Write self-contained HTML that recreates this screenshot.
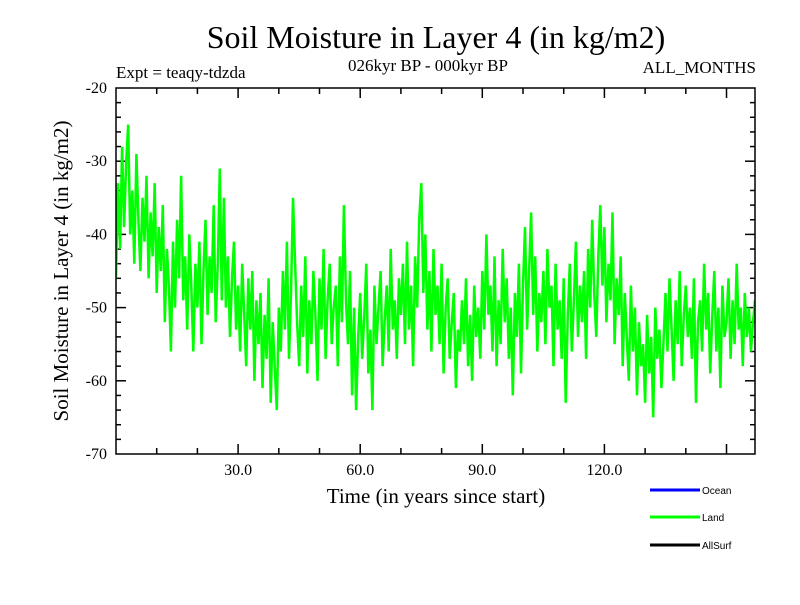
<!DOCTYPE html>
<html><head><meta charset="utf-8"><style>
body{margin:0;background:#fff}
svg text{font-family:"Liberation Serif",serif}
</style></head><body>
<svg id="chart" width="800" height="600" viewBox="0 0 800 600">
<defs><clipPath id="plotclip"><rect x="116" y="88" width="639" height="366"/></clipPath></defs>
<rect width="800" height="600" fill="#fff"/>
<text x="436" y="48" font-size="32" text-anchor="middle">Soil Moisture in Layer 4 (in kg/m2)</text>
<text x="116" y="78" font-size="17">Expt = teaqy-tdzda</text>
<text x="428" y="71" font-size="17" text-anchor="middle">026kyr BP - 000kyr BP</text>
<text x="756" y="73" font-size="17" text-anchor="end">ALL_MONTHS</text>
<text x="436" y="503" font-size="21" text-anchor="middle">Time (in years since start)</text>
<text transform="translate(68,271) rotate(-90)" font-size="21" text-anchor="middle">Soil Moisture in Layer 4 (in kg/m2)</text>
<g id="ticks"></g>
<g id="series" clip-path="url(#plotclip)"></g>
<rect x="116" y="88" width="639" height="366" fill="none" stroke="#000" stroke-width="1.5"/>
<g>
<line x1="650" y1="490" x2="700" y2="490" stroke="#0000ff" stroke-width="3"/>
<text x="702" y="494" font-size="10" style="font-family:'Liberation Sans',sans-serif">Ocean</text>
<line x1="650" y1="517" x2="700" y2="517" stroke="#00ff00" stroke-width="3"/>
<text x="702" y="521" font-size="10" style="font-family:'Liberation Sans',sans-serif">Land</text>
<line x1="650" y1="545" x2="700" y2="545" stroke="#000" stroke-width="3"/>
<text x="702" y="549" font-size="10" style="font-family:'Liberation Sans',sans-serif">AllSurf</text>
</g>
</svg>
<script>
const xTicks=[30,60,90,120];
const xTickLabels=["30.0","60.0","90.0","120.0"];
const yTicks=[-20,-30,-40,-50,-60,-70];
const yTickLabels=["-20","-30","-40","-50","-60","-70"];
const timeStep=0.5;
const landValues=[
-46,-33,-42,-28,-39,-30,-25,-40,-34,-44,
-29,-38,-45,-35,-41,-32,-46,-37,-43,-33,
-48,-39,-45,-36,-52,-42,-47,-56,-41,-50,
-38,-46,-32,-49,-43,-53,-40,-47,-56,-44,
-50,-41,-55,-45,-38,-51,-43,-48,-36,-52,
-44,-31,-49,-35,-50,-43,-54,-46,-41,-53,
-47,-56,-44,-51,-58,-46,-53,-45,-60,-49,
-55,-48,-61,-51,-57,-46,-63,-52,-58,-64,
-50,-56,-45,-53,-41,-57,-48,-35,-44,-52,
-58,-47,-54,-43,-59,-49,-55,-45,-51,-60,
-46,-53,-42,-57,-49,-44,-55,-50,-47,-58,
-43,-52,-36,-49,-55,-45,-62,-50,-64,-54,
-48,-57,-51,-44,-59,-53,-64,-47,-55,-50,
-45,-58,-52,-47,-56,-42,-53,-49,-57,-46,
-51,-44,-55,-41,-53,-47,-58,-43,-50,-38,
-33,-48,-40,-53,-45,-56,-42,-51,-47,-55,
-44,-59,-50,-46,-57,-52,-48,-61,-53,-56,
-49,-55,-46,-58,-51,-60,-47,-54,-50,-57,
-45,-53,-40,-51,-47,-56,-43,-58,-49,-55,
-42,-52,-46,-57,-50,-62,-48,-54,-44,-59,
-47,-39,-53,-45,-37,-51,-43,-56,-48,-52,
-45,-55,-42,-50,-47,-58,-44,-53,-49,-57,
-46,-63,-51,-44,-56,-49,-41,-54,-47,-52,
-45,-57,-42,-50,-38,-48,-54,-43,-36,-47,
-39,-52,-44,-49,-37,-55,-46,-51,-43,-58,
-48,-54,-60,-47,-56,-50,-62,-52,-58,-55,
-63,-51,-59,-54,-65,-50,-57,-53,-61,-55,
-48,-56,-46,-53,-60,-49,-55,-45,-58,-51,
-47,-54,-50,-57,-46,-63,-52,-49,-56,-44,
-53,-48,-59,-51,-45,-56,-50,-61,-47,-54,
-52,-46,-57,-49,-55,-44,-53,-50,-58,-48,
-54,-50,-56,-52,-49,-55,-51,-53,-50,-52];
const NS="http://www.w3.org/2000/svg";
const X0=116,X1=755,Y0=88,Y1=454,xMin=0,xMax=157,yMin=-70,yMax=-20;
function sx(v){return X0+(v-xMin)/(xMax-xMin)*(X1-X0);}
function sy(v){return Y1-(v-yMin)/(yMax-yMin)*(Y1-Y0);}
function mk(tag,attrs,parent){const e=document.createElementNS(NS,tag);for(const k in attrs)e.setAttribute(k,attrs[k]);parent.appendChild(e);return e;}
const tg=document.getElementById('ticks');
for(let v=10;v<xMax;v+=10){
  const major=v%30===0, L=major?10:6, x=sx(v);
  const a=mk('line',{x1:x,y1:Y1,x2:x,y2:Y1-L,stroke:'#000','stroke-width':1.5},tg);
  
  
  const b=mk('line',{x1:x,y1:Y0,x2:x,y2:Y0+L,stroke:'#000','stroke-width':1.5},tg);
  
  
}
xTicks.forEach((v,i)=>{
  const t=mk('text',{x:sx(v),y:Y1+21,'font-size':16,'text-anchor':'middle'},tg);
  t.textContent=xTickLabels[i];
  
  
});
for(let v=yMin+2;v<yMax;v+=2){
  const major=v%10===0, L=major?10:5, y=sy(v);
  const a=mk('line',{x1:X0,y1:y,x2:X0+L,y2:y,stroke:'#000','stroke-width':1.5},tg);
  
  
  const b=mk('line',{x1:X1,y1:y,x2:X1-L,y2:y,stroke:'#000','stroke-width':1.5},tg);
  
  
}
yTicks.forEach((v,i)=>{
  const t=mk('text',{x:X0-9,y:sy(v)+5,'font-size':16,'text-anchor':'end'},tg);
  t.textContent=yTickLabels[i];
  
  
});
const pts=landValues.map((v,i)=>sx(i*timeStep).toFixed(1)+','+sy(v).toFixed(1)).join(' ');
const pl=mk('polyline',{points:pts,fill:'none',stroke:'#00ff00','stroke-width':2.5,'stroke-linejoin':'miter'},document.getElementById('series'));


</script>
</body></html>
